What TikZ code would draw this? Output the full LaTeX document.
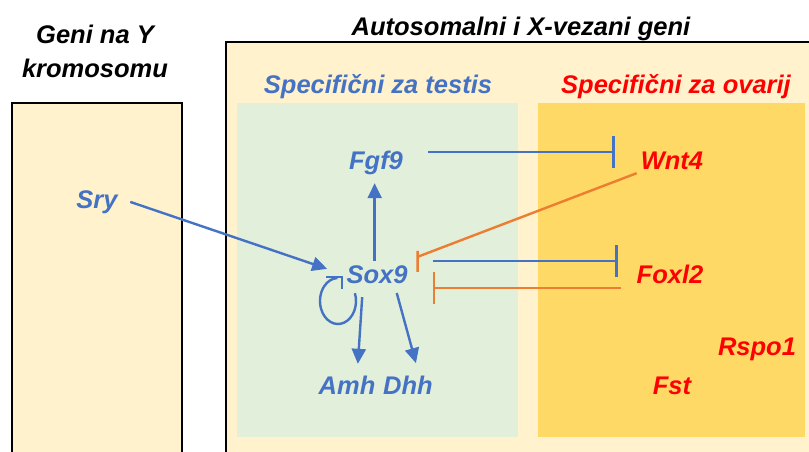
\documentclass[tikz,border=0pt]{standalone}
\usepackage{fontspec}
\setmainfont{Liberation Sans}
\usetikzlibrary{arrows.meta,calc}

\definecolor{chromcream}{HTML}{FFF2CC}
\definecolor{testisgreen}{HTML}{E2EFDA}
\definecolor{ovarygold}{HTML}{FFD966}
\definecolor{geneblue}{HTML}{4472C4}
\definecolor{geneorange}{HTML}{ED7D31}
\definecolor{genered}{HTML}{FF0000}

\begin{document}
\begin{tikzpicture}[x=1pt,y=-1pt,
		lbl/.style={font=\fontsize{25.5}{34}\selectfont\bfseries\itshape, inner sep=4pt},
		gene/.style={lbl, text height=18pt, text depth=0pt},
		act/.style={geneblue, line width=2.4pt, -{Triangle[length=15pt,width=14pt]}},
		inh/.style={line width=2.4pt, -{Bar[width=32pt]}}]
			\clip (0,0) rectangle (809,451);
			\fill[white] (0,0) rectangle (809,451);

			\draw[line width=2.8pt, fill=chromcream] (12,103) rectangle (182,470);
			\draw[line width=2.8pt, fill=chromcream] (226,42) rectangle (830,470);
			\fill[testisgreen] (237,103) rectangle (518,437);
			\fill[ovarygold]   (538,103) rectangle (805,437);

			\node[lbl, align=center] (ytitle) at (95,51) {Geni na Y\\kromosomu};
			\node[gene] (autotitle) at (521,26) {Autosomalni i X-vezani geni};
			\node[gene, geneblue] (testis) at (378,84) {Specifični za testis};
			\node[gene, genered]  (ovary)  at (676,84) {Specifični za ovarij};

			\node[gene, geneblue] (sry)   at ( 97,199) {Sry};
			\node[gene, geneblue] (fgf9)  at (376,160) {Fgf9};
			\node[gene, geneblue] (sox9)  at (377,274) {Sox9};
			\node[gene, geneblue] (amh)   at (347,385) {Amh};
			\node[gene, geneblue] (dhh)   at (408,385) {Dhh};
			\node[gene, genered]  (wnt4)  at (672,160) {Wnt4};
			\node[gene, genered]  (foxl2) at (670,274) {Foxl2};
			\node[gene, genered]  (rspo1) at (757,346) {Rspo1};
			\node[gene, genered]  (fst)   at (672,385) {Fst};

			\draw[act, shorten <=9pt, shorten >=16pt] (sry.east) -- (sox9.west);
			\draw[act, shorten >=10pt] (sox9.100) -- (sox9.100 |- fgf9.south);
			\draw[act, shorten <=10pt, shorten >=8pt] (sox9.223) -- (amh.52);
			\draw[act, shorten <=6pt, shorten >=9pt] (sox9.-36) -- (dhh.52);

			\coordinate (loopc) at (338,301);
			\draw[geneblue, line width=2.4pt] (loopc) ++(-20:18 and 23) arc[start angle=-20, end angle=268, x radius=18, y radius=23];
			\draw[geneblue, line width=2.4pt] (326,277) -- (342,277) -- (342,289);

			\draw[inh, geneblue, shorten <=21pt, shorten >=22pt] ([yshift=8pt]fgf9.east) -- ([yshift=8pt]wnt4.west);
			\draw[inh, geneblue, shorten <=21pt, shorten >=15pt] ([yshift=13pt]sox9.east) -- ([yshift=13pt]foxl2.west);
			\draw[inh, geneorange, shorten <=12pt, shorten >=21pt] ([yshift=-14pt]foxl2.west) -- ([yshift=-14pt]sox9.east);

			\coordinate (wbar) at ($(sox9.north east)+(6,-4)$);
			\draw[geneorange, line width=2.4pt, shorten <=9pt] (wnt4.south west) -- (wbar) ++(0,-15) -- ++(0,30);
		\end{tikzpicture}
\end{document}
